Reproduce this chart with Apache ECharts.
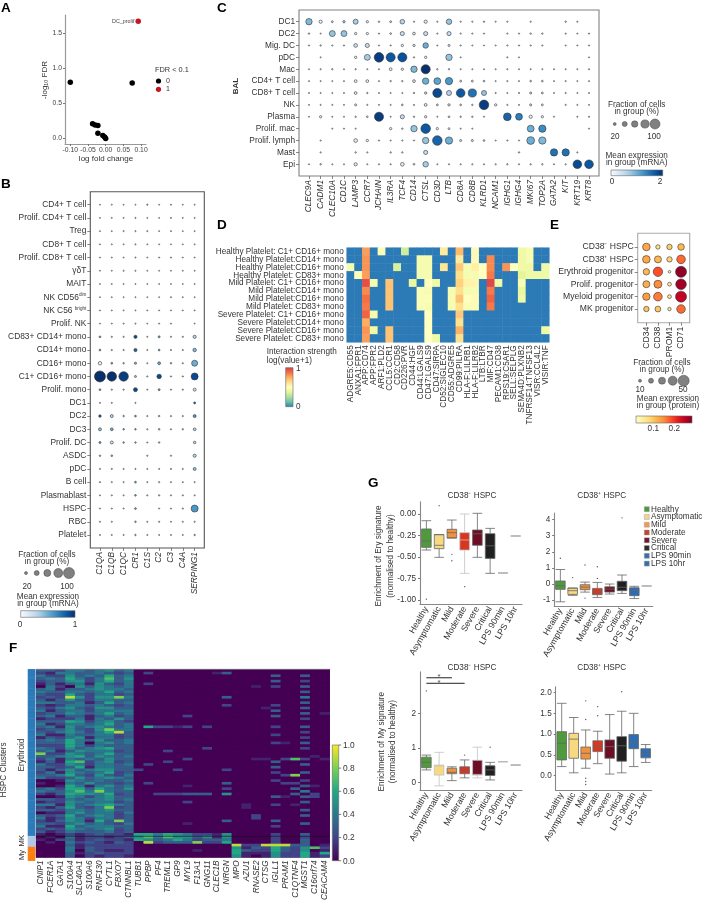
<!DOCTYPE html>
<html><head><meta charset="utf-8">
<style>html,body{margin:0;padding:0;background:#fff}#c{width:703px;height:903px}</style>
<script src="https://cdn.jsdelivr.net/npm/echarts@6/dist/echarts.min.js"></script>
</head><body><div id="c"></div>
<script>
// ---------- Panel A ----------
const aPointsBlack=[[-0.10,0.80],[0.075,0.79],[-0.037,0.21],[-0.03,0.19],[-0.022,0.185],[-0.022,0.075],[-0.008,0.04],[-0.003,0.02],[0,0]];
const aPointsRed=[[0.092,1.67]];
const aXTicks=[-0.10,-0.05,0,0.05,0.10];
const aYTicks=[0,0.5,1,1.5];
// ---------- Panel C ----------
const cRows=['DC1','DC2','Mig. DC','pDC','Mac','CD4+ T cell','CD8+ T cell','NK','Plasma','Prolif. mac','Prolif. lymph','Mast','Epi'];
const cGenes=['CLEC9A','CADM1','CLEC10A','CD1C','LAMP3','CCR7','JCHAIN','IL3RA','TCF4','CD14','CTSL','CD3D','LTB','CD8A','CD8B','KLRD1','NCAM1','IGHG1','IGHG4','MKI67','TOP2A','GATA2','KIT','KRT19','KRT8'];
const cFrac=[
[60,25,10,15,45,15,6,10,40,3,25,3,50,3,3,5,2,3,0,3,0,0,5,3,0],
[5,2,55,55,15,15,3,8,35,20,35,3,35,3,3,3,0,3,3,5,5,0,3,2,3],
[3,5,3,3,30,35,2,3,15,15,50,2,12,3,2,2,2,3,3,3,3,0,2,2,3],
[0,2,0,0,15,55,95,90,90,4,15,0,60,2,0,0,0,3,2,0,0,0,0,0,2],
[2,3,5,2,4,2,2,20,15,60,90,5,5,2,2,2,2,3,2,2,2,2,2,2,3],
[2,2,2,2,20,20,2,5,5,20,60,65,70,10,10,8,2,3,2,8,8,2,3,2,2],
[2,2,2,2,20,5,2,2,2,5,15,90,45,85,80,45,3,2,3,12,10,2,3,2,2],
[2,2,2,2,12,3,2,2,8,3,20,10,15,8,5,95,15,3,3,12,10,0,3,2,2],
[2,15,2,2,5,8,90,2,35,5,15,2,8,5,5,2,0,75,65,25,15,2,0,3,3],
[0,0,2,2,2,0,0,15,5,60,95,15,10,2,2,0,0,0,0,65,70,0,0,0,2],
[0,3,0,0,30,15,4,2,3,3,60,95,70,12,12,8,2,3,2,75,70,0,0,0,0],
[0,3,0,0,5,3,0,5,5,0,35,0,0,0,0,0,0,0,5,0,0,70,70,3,0],
[2,6,2,2,25,2,3,3,30,8,50,2,3,3,3,3,3,5,3,4,5,2,3,85,85]];
const cExpr=[
[.9,.1,.3,.6,.7,.1,.2,.4,.6,.1,.2,.1,.8,.1,.1,.2,.1,.1,0,.1,0,0,.3,.1,0],
[.3,.1,.8,.8,.2,.1,.1,.3,.5,.2,.5,.1,.5,.1,.1,.1,0,.1,.1,.2,.2,0,.1,.1,.1],
[.1,.2,.1,.1,.4,.5,.1,.1,.1,.2,1,.1,.3,.1,.1,.1,.1,.1,.1,.1,.1,0,.1,.1,.1],
[0,.1,0,0,.1,.7,1.9,1.7,1.75,.1,.1,0,.8,.1,0,0,0,.1,.1,0,0,0,0,0,.1],
[.1,.1,.2,.1,.2,.1,.1,.1,.1,.9,2,.2,.2,.1,.1,.1,.1,.1,.1,.1,.1,.1,.1,.1,.1],
[.1,.1,.1,.1,.1,.1,.1,.2,.2,.2,1,1.1,1.2,.3,.3,.3,.1,.1,.1,.3,.3,.1,.1,.1,.1],
[.1,.1,.1,.1,.2,.2,.1,.1,.1,.2,.4,1.8,.6,1.7,1.5,.8,.1,.1,.1,.4,.3,.1,.1,.1,.1],
[.1,.1,.1,.1,.2,.1,.1,.1,.3,.1,.2,.3,.2,.3,.2,1.9,.1,.1,.1,.4,.3,0,.1,.1,.1],
[.1,.1,.1,.1,.2,.3,1.9,.1,.5,.2,.2,.1,.3,.2,.2,.1,0,1.6,1.4,.1,.1,.1,0,.1,.1],
[0,0,.1,.1,.1,0,0,.1,.2,.8,1.7,.1,.1,.1,.1,0,0,0,0,1,1.3,0,0,0,.1],
[0,.1,0,0,.2,.1,.1,.1,.1,.1,.8,1.6,1,.4,.4,.3,.1,.1,.1,1,.9,0,0,0,0],
[0,.1,0,0,.2,.1,0,.2,.2,0,.5,0,0,0,0,0,0,0,.2,0,0,1.5,1.5,.1,0],
[.1,.3,.1,.1,.2,.1,.1,.1,.2,.3,.7,.1,.1,.1,.1,.1,.1,.2,.1,.2,.2,.1,.1,1.8,1.7]];
// ---------- Panel B ----------
const bRows=['CD4+ T cell','Prolif. CD4+ T cell','Treg','CD8+ T cell','Prolif. CD8+ T cell','γδT','MAIT','NK CD56dim','NK C56 bright','Prolif. NK','CD83+ CD14+ mono','CD14+ mono','CD16+ mono','C1+ CD16+ mono','Prolif. mono','DC1','DC2','DC3','Prolif. DC','ASDC','pDC','B cell','Plasmablast','HSPC','RBC','Platelet'];
const bGenes=['C1QA','C1QB','C1QC','CR1','C1S','C2','C3','C4A','SERPING1'];
const bFrac=[
[1,1,1,1,3,1,2,1,1],[1,1,1,2,1,1,2,1,1],[1,1,2,2,2,1,2,1,1],[1,1,1,2,1,1,1,1,1],[1,1,1,2,1,2,2,1,1],
[1,1,2,2,1,1,1,1,1],[1,1,1,1,1,1,1,1,1],[1,1,1,1,1,1,2,1,1],[1,1,1,1,1,1,1,1,1],[1,1,2,2,1,2,2,0,1],
[8,3,3,22,2,10,3,3,22],[8,3,3,22,2,8,3,3,25],[25,8,5,12,2,18,6,3,50],[100,85,85,10,3,35,3,3,60],[8,3,3,30,2,10,3,3,20],
[2,2,0,2,0,0,0,0,10],[15,20,5,8,3,5,3,3,20],[20,18,6,6,3,6,3,4,18],[10,20,6,6,2,5,0,0,15],[6,7,0,0,3,0,3,0,22],
[2,3,2,2,2,2,3,2,20],[3,2,2,8,2,3,2,2,2],[2,2,2,7,3,4,3,3,2],[2,2,2,8,0,2,2,3,60],[2,2,0,6,2,3,2,2,3],[2,2,2,5,2,2,2,2,5]];
const bExpr=[
[.05,.05,.05,.05,.3,.05,.1,.05,.05],[.05,.05,.05,.1,.05,.05,.1,.05,.05],[.05,.05,.1,.1,.1,.05,.1,.05,.05],[.05,.05,.05,.1,.05,.05,.05,.05,.05],[.05,.05,.05,.1,.05,.1,.1,.05,.05],
[.05,.05,.1,.1,.05,.05,.05,.05,.05],[.05,.05,.05,.05,.05,.05,.05,.05,.05],[.05,.05,.05,.05,.05,.05,.1,.05,.05],[.05,.05,.05,.05,.05,.05,.05,.05,.05],[.05,.05,.1,.1,.05,.1,.1,0,.05],
[.5,.2,.2,.9,.1,.5,.1,.1,.3],[.5,.2,.2,.8,.1,.5,.1,.1,.45],[.05,.5,.3,.5,.1,.5,.3,.1,.5],[1,1,.95,.4,.1,.9,.1,.1,.9],[.5,.2,.2,.9,.1,.5,.1,.1,.2],
[.1,.1,0,.1,0,0,0,0,.8],[.8,.3,.4,.5,.1,.3,.1,.1,.6],[.4,.5,.5,.5,.1,.4,.1,.2,.3],[.6,.2,.4,.4,.1,.3,0,0,.3],[.3,.4,0,0,.1,0,.1,0,.3],
[.1,.1,.1,.1,.1,.1,.1,.1,.4],[.1,.1,.1,.5,.1,.1,.1,.1,.1],[.1,.1,.1,.5,.1,.2,.1,.1,.1],[.1,.1,.1,.5,0,.1,.1,.1,.6],[.1,.1,0,.4,.1,.1,.1,.1,.1],[.1,.1,.1,.3,.1,.1,.1,.1,.3]];
// ---------- Panel D ----------
const dRows=['Healthy Platelet: C1+ CD16+ mono','Healthy Platelet:CD14+ mono','Healthy Platelet:CD16+ mono','Healthy Platelet: CD83+ mono','Mild Platelet: C1+ CD16+ mono','Mild Platelet:CD14+ mono','Mild Platelet:CD16+ mono','Mild Platelet: CD83+ mono','Severe Platelet: C1+ CD16+ mono','Severe Platelet:CD14+ mono','Severe Platelet:CD16+ mono','Severe Platelet: CD83+ mono'];
const dPairs=['ADGRE5:CD55','ANXA1:FPR1','APP:CD74','APP:FPR2','ARF1:PLD2','CCL5:CCR1','CD2:CD58','CD226:PVR','CD44:HGF','CD44:LGALS9','CD47:LGALS9','CD47:SIRPA','CD52:SIGLEC10','CD55:ADGRE5','CD99:PILRA','HLA-F:LILRB1','HLA-F:LILRB2','LTB:LTBR','MIF:CD47','PECAM1:CD38','RPS19:C5AR1','SELL:SELPLG','SEMA4D:PLXNB2','TNFRSF14:TNFSF13','VISR:CCL4L2','VISIR:TNF'];
const dValues=[
[0,0,.78,0,.48,0,0,.33,0,0,0,0,.58,0,.72,0,.52,0,0,0,0,0,.42,.46,0,0],
[0,0,.8,0,0,0,0,0,0,.45,.45,0,0,0,.58,0,.52,0,.82,0,0,0,.42,.46,0,0],
[.45,0,.8,0,0,0,.35,0,0,.45,.45,0,.6,0,.68,.46,.56,.5,.82,0,.8,.5,.42,.42,0,.42],
[0,.48,.78,0,0,0,0,0,0,.45,.45,0,0,0,.62,.45,.46,.5,.85,0,0,0,.38,.42,.42,.42],
[0,0,.95,.45,0,.7,0,0,.4,0,.5,.42,0,0,.66,.55,.54,0,.97,.42,0,0,.46,0,0,0],
[0,0,.82,0,0,.7,0,0,0,.47,.46,0,0,.46,.62,.45,.46,0,.85,0,0,0,.4,0,0,0],
[0,0,.87,0,0,.7,0,0,0,.47,.48,0,0,.46,.7,.5,.52,0,.9,0,0,0,.42,0,0,0],
[0,0,.85,0,0,.7,0,0,0,.47,.46,0,0,.46,.62,.47,.47,0,.85,0,0,0,0,0,0,0],
[0,0,.9,.45,0,0,0,0,0,0,.5,0,0,0,.68,0,0,0,0,0,0,0,0,0,0,0],
[0,0,.75,0,0,0,0,0,0,0,.5,0,0,0,.62,0,0,0,0,0,0,0,0,0,0,0],
[0,0,.8,.42,0,.7,0,0,0,0,.5,0,0,0,.74,0,0,0,0,0,0,0,0,0,0,.42],
[0,0,.78,0,0,.7,0,0,0,0,.5,.42,0,0,.62,0,0,0,0,0,0,0,0,0,0,0]];
// ---------- Panel E ----------
const eRows=['CD38⁻ HSPC','CD38⁺ HSPC','Erythroid progenitor','Prolif. progenitor','Myeloid progenitor','MK progenitor'];
const eProteins=['CD34','CD38','PROM1','CD71'];
const eFrac=[[33,17,22,28],[33,30,22,38],[27,42,8,50],[30,35,14,48],[32,38,14,50],[22,24,12,38]];
const eExpr=[[.115,.055,.08,.1],[.115,.1,.075,.16],[.1,.175,.02,.27],[.11,.14,.04,.26],[.125,.15,.05,.24],[.09,.085,.04,.16]];
// ---------- Panel F ----------
const fGenes=['CNIP1','FCER1A','GATA1','S100A4','SLC40A1','S100A6','RNF130','CYTL1','FBXO7','CTNNBL1','TUBB1','PPBP','PF4','TREML1','GP9','MYL9','F13A1','GNG11','CLEC1B','NRGN','MPO','AZU1','RNASE2','CTSG','IGLL1','PRAM1','C1QTNF4','MGST1','C16orf74','CEACAM4'];
const fClusterSizes=[61,4,5];
const fDense=[
'3324434534','2144334323','4225343634','3436424735','2335524634','1313415324','0420535434','3413345443','4334434634','3226324423',
'2329525584','3135324433','4433413634','2124434323','3245325533','4134424444','2335434634','3413313423','1222414353','3336524532',
'4124434634','3415345434','2335325844','3245424693','4114334423','1324514423','3436435334','3336404534','2226424333','4325345633',
'3413544423','8225434633','3345635434','2414343533','1316724523','4225424434','3323614433','3135345533','2415434623','3346325324',
'4223534543','0015434334','1004353323','0016414534','3426636435','4335748433','2136554623','0015424533','3324344534','1225434423',
'4415345643','2136324823','3324434533','0114534424','3236345423','4125424423','2135416383','3324534324','4116344433','2325434523',
'3124333423',
'1012123221','0104122123','1023123221','0104232132',
'0003122222','0004132222','0004032112','0003123222','0003021221'];
const fOthers=[
[1,11,2],[5,11,2],[21,11,6],[21,12,2],[21,13,2],[21,14,1],[21,15,2],[21,17,2],[30,13,2],[1,18,1],[35,11,2],[37,10,2],[46,12,2],[46,13,2],[46,14,2],[46,15,3],[46,16,3],[46,17,3],[46,19,5],[42,11,2],[43,15,1],[49,15,2],[50,21,1],[57,15,1],[17,15,2],[33,15,2],[34,13,2],[29,17,2],[37,14,2],
[1,19,3],[10,19,3],[13,19,2],[37,19,2],[42,19,3],[44,19,2],[56,19,3],
[2,24,3],[4,24,3],[6,24,2],[13,24,2],[15,24,3],[17,24,3],[21,24,2],[24,24,2],[27,24,2],[34,24,3],[36,24,3],[38,24,2],[41,24,2],[47,24,3],[50,24,2],[56,24,3],[58,24,2],
[2,27,3],[4,27,2],[6,27,3],[8,27,3],[10,27,4],[12,27,3],[14,27,3],[16,27,3],[18,27,2],[21,27,3],[23,27,2],[25,27,2],[27,27,3],[29,27,2],[33,27,2],[35,27,3],[38,27,3],[41,27,2],[43,27,3],[45,27,4],[47,27,3],[49,27,3],[52,27,3],[54,27,3],[57,27,3],
[33,26,7],[33,25,2],[33,23,1],[33,22,1],[39,26,8],[39,25,2],[42,25,2],[42,26,2],[44,26,3],[46,26,3],[47,25,1],[47,28,2],[50,26,1],[27,25,1],[14,23,1],[16,29,1],[32,28,1],[33,29,1],[43,28,1],[46,28,2],[54,22,2],[55,22,2],[51,21,1],[6,22,1]];
const fMegaRows=[
'66465422150000200300',
'57475535150000200200',
'65346423340000200300',
'09233382260000200300'];
const fMyeloRows=[
'00000000009229993301',
'00000000005132632572',
'00000010006322632501',
'00000000006111522616',
'00000000005101522612'];
// ---------- Panel G ----------
const gGroups=['Healthy','Asymptomatic','Mild','Moderate','Severe','Critical','LPS 90min','LPS 10hr'];
const gColors=['#4f9a3c','#f7d981','#ef9240','#d8361f','#6d0e25','#202020','#2d6db4','#2d6db4'];
const gLegendColors=['#4f9a3c','#f2d58a','#ee9a55','#c8432f','#6d1a30','#2a2a2a','#3a6ea8','#3a6ea8'];
// whisker-low, q1, median, q3, whisker-high
const ery38neg=[[-.419,-.388,-.314,-.174,-.078],[-.504,-.403,-.364,-.24,-.24],[-.279,-.279,-.217,-.178,-.07],[-.69,-.419,-.302,-.217,0],[-.504,-.364,-.23,-.186,.008],[-.69,-.516,-.37,-.229,-.167],[-.686,-.686,-.686,-.686,-.686],[-.256,-.256,-.256,-.256,-.256]];
const ery38negOut=[[0,-.99],[1,.097],[2,-.469],[2,-.543],[3,-.845]];
const ery38pos=[[-1.1,-.33,-.1,.19,.9],[-.7,-.64,-.41,-.25,-.25],[-.5,-.35,-.19,-.04,.12],[-.83,-.66,-.5,-.27,.1],[-.62,-.5,-.31,-.17,0],[-.58,-.41,-.2,.17,.56],[-.9,-.72,-.41,-.23,-.14],[-.12,-.12,-.12,-.12,-.12]];
const ery38posOut=[[0,1.6],[1,.4],[2,1.18],[2,-.87],[3,1.07],[3,.35],[5,4.1]];
const my38neg=[[.36,.425,.58,.73,.79],[-.1,.21,.48,.5,.87],[.05,.25,.29,.41,.45],[.13,.25,.35,.45,.65],[.13,.21,.23,.64,1.02],[.07,.2,.36,.48,.58],[.6,.6,.6,.6,.6],[.5,.5,.5,.5,.5]];
const my38negOut=[[0,2.65],[3,.79],[5,1.02]];
const my38pos=[[.22,.38,.78,1.06,1.74],[.07,.42,.88,1.02,1.4],[.18,.4,.54,.69,1.1],[.29,.58,.71,.84,1.07],[.04,.42,.7,.86,1.47],[.07,.35,.72,.94,1.55],[.22,.65,.8,.99,1.5],[.32,.43,.54,.65,.75]];
const my38posOut=[[2,1.8],[2,1.35],[2,-.06],[2,-.14],[2,-.21],[3,1.66],[3,1.44],[5,2.02]];
const myBrackets=[[[0,3.03],[2,3.03]],[[0,2.87],[3,2.87]]];
const myStars=[[1.1,3.03],[1.4,2.87]];

// ---------- colour ramps ----------
const BLUES=['#f7fbff','#deebf7','#c6dbef','#9ecae1','#6baed6','#4292c6','#2171b5','#08519c','#08306b'];
const YLORRD=['#ffffcc','#ffeda0','#fed976','#feb24c','#fd8d3c','#fc4e2a','#e31a1c','#bd0026','#800026'];
const SPECTRAL=['#2c7bb6','#66c2a5','#abdda4','#e6f598','#ffffbf','#fee08b','#fdae61','#f46d43','#d53e4f'];
const VIRIDIS=['#440154','#414487','#2a788e','#22a884','#7ad151','#fde725'];
function ramp(st,t){t=Math.max(0,Math.min(1,t));const p=t*(st.length-1),i=Math.min(st.length-2,Math.floor(p)),f=p-i;
 const h=s=>[1,3,5].map(k=>parseInt(s.substr(k,2),16));const a=h(st[i]),b=h(st[i+1]);
 return 'rgb('+a.map((v,k)=>Math.round(v+(b[k]-v)*f)).join(',')+')';}

const FONT='"Liberation Sans",Arial,sans-serif', TXT='#333';
const grid=[],xAxis=[],yAxis=[],series=[],visualMap=[],graphic=[];
function T(x,y,text,o){o=o||{};graphic.push({type:'text',x,y,rotation:o.rot||0,silent:true,z:20,style:{text,align:o.align||'center',verticalAlign:'middle',fill:o.fill||TXT,font:(o.style||'')+' '+(o.weight||'normal')+' '+(o.size||8.2)+'px '+FONT}});}
function addGrid(l,t,w,h,g){grid.push(Object.assign({left:l,top:t,width:w,height:h,containLabel:false},g||{}));return grid.length-1;}
const richSup={s:{fontSize:4.6,verticalAlign:'top',lineHeight:9,color:TXT,fontFamily:FONT},n:{fontSize:8.4,color:TXT,fontFamily:FONT,lineHeight:9}};

function dotplot(o){
 const nx=o.cols.length,ny=o.rows.length,gi=addGrid(o.l,o.t,o.w,o.h,{show:true,borderColor:o.frame||'#808080',borderWidth:1.1,backgroundColor:'#fff'});
 const xs=o.cols.map((_,i)=>i),ys=o.rows.map((_,i)=>i),fs=o.fs||8.4;
 xAxis.push({gridIndex:gi,type:'value',position:'bottom',min:-o.padX,max:nx-1+o.padX,splitLine:{show:false},axisLine:{show:false,onZero:false},
  axisTick:{show:true,length:3,customValues:xs,lineStyle:{color:'#555',width:.7}},
  axisLabel:{customValues:xs,rotate:90,fontSize:fs,fontFamily:FONT,color:TXT,fontStyle:o.italic?'italic':'normal',margin:4,formatter:v=>o.cols[v]}});
 yAxis.push({gridIndex:gi,type:'value',position:'left',inverse:true,min:-o.padY,max:ny-1+o.padY,splitLine:{show:false},axisLine:{show:false,onZero:false},
  axisTick:{show:true,length:3,customValues:ys,lineStyle:{color:'#555',width:.7}},
  axisLabel:{customValues:ys,fontSize:fs,fontFamily:FONT,color:TXT,margin:4,rich:richSup,formatter:o.yFmt||(v=>o.rows[v])}});
 const data=[];o.frac.forEach((r,y)=>r.forEach((f,x)=>{if(f>0)data.push([x,y,f,o.expr[y][x]]);}));
 series.push({type:'scatter',xAxisIndex:gi,yAxisIndex:gi,data,clip:false,silent:true,z:5,
  symbolSize:v=>o.d0+o.k*v[2],
  itemStyle:{color:p=>ramp(o.pal,p.value[3]/o.max),borderColor:'#333',borderWidth:.6,opacity:1}});
}
function sizeLegend(xs,ds,y){xs.forEach((x,i)=>graphic.push({type:'circle',silent:true,z:20,shape:{cx:x,cy:y,r:ds[i]/2},style:{fill:'#808080',stroke:'#444',lineWidth:.5}}));}
function colorbar(x,y,w,h,pal,vert){const n=pal.length;
 graphic.push({type:'rect',silent:true,z:20,shape:{x,y,width:w,height:h},style:{fill:new echarts.graphic.LinearGradient(0,vert?1:0,vert?0:1,0,pal.map((c,i)=>({offset:i/(n-1),color:c}))),stroke:'#666',lineWidth:.6}});}

// ----- A -----
{const g=addGrid(65,15,81,129);
 const ax={color:'#999',width:1.2};
 xAxis.push({gridIndex:g,type:'value',min:-.115,max:.114,splitLine:{show:false},axisLine:{onZero:false,lineStyle:ax},
  axisTick:{length:2,customValues:aXTicks,lineStyle:{color:'#777'}},
  axisLabel:{customValues:aXTicks,fontSize:6.8,color:'#444',fontFamily:FONT,margin:3,formatter:v=>v.toFixed(2)}});
 yAxis.push({gridIndex:g,type:'value',min:-.08,max:1.76,splitLine:{show:false},axisLine:{show:true,onZero:false,lineStyle:ax},
  axisTick:{show:true,length:2,customValues:aYTicks,lineStyle:{color:'#777'}},
  axisLabel:{customValues:aYTicks,fontSize:6.8,color:'#444',fontFamily:FONT,margin:3,formatter:v=>v.toFixed(1)}});
 series.push({type:'scatter',xAxisIndex:g,yAxisIndex:g,data:aPointsBlack,symbolSize:5.5,clip:false,silent:true,itemStyle:{color:'#000',opacity:1}});
 series.push({type:'scatter',xAxisIndex:g,yAxisIndex:g,data:aPointsRed,symbolSize:5.5,clip:false,silent:true,itemStyle:{color:'#c4161c',opacity:1},
  label:{show:true,position:'left',distance:1,formatter:'DC_prolif',fontSize:5.4,color:'#444',fontFamily:FONT}});
 T(106,159,'log fold change',{size:8});T(45,80,'-log₁₀ FDR',{size:8,rot:Math.PI/2});
 T(155,70,'FDR < 0.1',{size:7.4,align:'left'});
 graphic.push({type:'circle',silent:true,shape:{cx:158.5,cy:81,r:2.6},style:{fill:'#000'}},{type:'circle',silent:true,shape:{cx:158.5,cy:89.3,r:2.6},style:{fill:'#c4161c'}});
 T(166,81,'0',{size:7,align:'left'});T(166,89.3,'1',{size:7,align:'left'});
}
// ----- C -----
dotplot({l:299,t:10,w:300,h:166,rows:cRows,cols:cGenes,frac:cFrac,expr:cExpr,padX:.855,padY:.985,italic:true,pal:BLUES,max:2,d0:1,k:.09,fs:8.3});
T(236,86,'BAL',{size:8,weight:'bold',rot:Math.PI/2});
T(636.7,104.3,'Fraction of cells');T(636.7,111.7,'in group (%)');
sizeLegend([614.7,624.7,634.7,645,655],[3,5,6.4,8.2,10],124);T(615,136.7,'20');T(654,136.7,'100');
T(636.7,155.7,'Mean expression');T(636.7,163,'in group (mRNA)');colorbar(611,170,51.7,5.7,BLUES);T(612,182,'0');T(660,182,'2');
// ----- B -----
dotplot({l:90.3,t:191.7,w:114,h:356.3,rows:bRows,cols:bGenes,frac:bFrac,expr:bExpr,padX:.815,padY:.985,italic:true,pal:BLUES,max:1,d0:1,k:.1,fs:8.4,frame:'#555',
 yFmt:v=>{const s=bRows[v];if(s==='NK CD56dim')return '{n|NK CD56}{s|dim}';if(s==='NK C56 bright')return '{n|NK C56 }{s|bright}';return s;}});
T(47,555,'Fraction of cells');T(47,562,'in group (%)');
sizeLegend([26,36.7,47.3,58.3,69],[3,5,7,9,11],573);T(27,587,'20');T(67,587,'100');
T(48,597,'Mean expression');T(48,604,'in group (mRNA)');colorbar(20.7,610.7,54.3,6.6,BLUES);T(20,625,'0');T(75,625,'1');
// ----- D -----
{const g=addGrid(346.7,247.7,202.6,94.6);
 xAxis.push({gridIndex:g,type:'category',data:dPairs,splitLine:{show:false},axisLine:{show:false,onZero:false},axisTick:{length:2,alignWithLabel:true,lineStyle:{color:'#555',width:.7}},
  axisLabel:{interval:0,rotate:90,fontSize:8.2,color:TXT,fontFamily:FONT,margin:3}});
 yAxis.push({gridIndex:g,type:'category',inverse:true,data:dRows,splitLine:{show:false},axisLine:{show:false,onZero:false},axisTick:{length:2,alignWithLabel:true,lineStyle:{color:'#555',width:.7}},
  axisLabel:{interval:0,fontSize:8.2,color:TXT,fontFamily:FONT,margin:3}});
 const data=[];dValues.forEach((r,y)=>r.forEach((v,x)=>data.push([x,y,v])));
 series.push({type:'heatmap',xAxisIndex:g,yAxisIndex:g,data,silent:true,emphasis:{disabled:true},itemStyle:{borderWidth:0}});
 visualMap.push({show:false,seriesIndex:series.length-1,dimension:2,min:0,max:1,inRange:{color:SPECTRAL}});
 T(266.7,351.7,'Interaction strength',{align:'left'});T(266.7,360.3,'log(value+1)',{align:'left'});
 colorbar(285.7,367.7,7.3,39,SPECTRAL,true);T(296,369,'1',{align:'left'});T(296,407,'0',{align:'left'});
}
// ----- E -----
dotplot({l:637.7,t:233.3,w:52,h:89.4,rows:eRows,cols:eProteins,frac:eFrac,expr:eExpr,padX:.75,padY:1.1,italic:false,pal:YLORRD,max:.28,d0:1,k:.2,fs:8.6,frame:'#aaa'});
T(662,363,'Fraction of cells');T(662,370,'in group (%)');
sizeLegend([640,651,662,672.7,683.7],[3,5,7,9,11],380.7);T(640,390,'10');T(683,390,'50');
T(668,399,'Mean expression');T(668,406,'in group (protein)');colorbar(636,416,56,7,YLORRD);T(653.3,429,'0.1');T(674.3,429,'0.2');
// ----- F -----
{const g=addGrid(36,669.3,293.7,191.4,{show:true,borderWidth:0,backgroundColor:'#440154'});
 const nRows=fDense.length,yCats=fDense.map((_,i)=>i);
 xAxis.push({gridIndex:g,type:'category',data:fGenes,splitLine:{show:false},axisLine:{show:false,onZero:false},axisTick:{length:2.5,alignWithLabel:true,lineStyle:{color:'#444',width:.7}},
  axisLabel:{interval:0,rotate:90,fontSize:8.2,fontStyle:'italic',color:TXT,fontFamily:FONT,margin:3}});
 yAxis.push({gridIndex:g,type:'category',inverse:true,data:yCats,axisLine:{show:false,onZero:false},axisTick:{show:false},axisLabel:{show:false},splitLine:{show:false}});
 const cell={};fDense.forEach((s,y)=>{for(let x=0;x<10;x++)cell[y+'_'+x]=+s[x]/10;});
 fOthers.forEach(([r,c,v])=>{cell[r+'_'+c]=v/10;});
 [...fMegaRows.map((s,i)=>[61+i,s]),...fMyeloRows.map((s,i)=>[65+i,s])].forEach(([y,s])=>{for(let k=0;k<20;k++)cell[y+'_'+(10+k)]=+s[k]/10;});
 const data=[];for(let y=0;y<nRows;y++)for(let x=0;x<30;x++)data.push([x,y,cell[y+'_'+x]||0]);
 series.push({type:'heatmap',xAxisIndex:g,yAxisIndex:g,data,silent:true,emphasis:{disabled:true},itemStyle:{borderWidth:0},progressive:0,z:2});
 visualMap.push({show:false,seriesIndex:series.length-1,dimension:2,min:0,max:1,inRange:{color:VIRIDIS}});
 // cluster colour strip
 const s=addGrid(28,669.3,7,191.4);
 xAxis.push({gridIndex:s,type:'category',data:['c'],show:false});
 yAxis.push({gridIndex:s,type:'category',inverse:true,data:yCats,show:false});
 const groupCol=['#2b7bba','#aec7e8','#ff7f0e'];const sd=[];let ri=0;
 fClusterSizes.forEach((n,gi)=>{for(let i=0;i<n;i++){sd.push({value:[0,ri++,gi],itemStyle:{color:groupCol[gi]}});}});
 series.push({type:'heatmap',xAxisIndex:s,yAxisIndex:s,data:sd,silent:true,emphasis:{disabled:true},itemStyle:{borderWidth:0}});
 graphic.push({type:'line',silent:true,z:20,shape:{x1:36,y1:836.3,x2:329.7,y2:836.3},style:{stroke:'#111',lineWidth:.6}});
 graphic.push({type:'line',silent:true,z:20,shape:{x1:36,y1:669.3,x2:329.7,y2:669.3},style:{stroke:'#888',lineWidth:.8}});
 T(4,770,'HSPC Clusters',{rot:Math.PI/2});T(22,755,'Erythroid',{rot:Math.PI/2});T(22,840.7,'MK',{rot:Math.PI/2,size:7.6});T(22,855,'My',{rot:Math.PI/2,size:7.6});
 colorbar(332.3,745,6.4,115.7,VIRIDIS,true);
 ['0.0','0.2','0.4','0.6','0.8','1.0'].forEach((l,i)=>{const y=860.7-i*23.14;
  graphic.push({type:'line',silent:true,z:20,shape:{x1:338.7,y1:y,x2:341.2,y2:y},style:{stroke:'#444',lineWidth:.7}});T(343,y+.5,l,{align:'left',size:8.4});});
}
// ----- G -----
function boxPanel(o){
 const g=addGrid(o.l,o.t,o.w,o.h),ax={color:'#888',width:1.1};
 xAxis.push({gridIndex:g,type:'category',data:gGroups,splitLine:{show:false},axisLine:{onZero:false,lineStyle:ax},axisTick:{length:2,alignWithLabel:true,lineStyle:{color:'#777'}},
  axisLabel:{interval:0,rotate:60,fontSize:8.7,color:TXT,fontFamily:FONT,margin:3}});
 yAxis.push({gridIndex:g,type:'value',min:o.min,max:o.max,splitLine:{show:false},axisLine:{show:true,onZero:false,lineStyle:ax},
  axisTick:{show:true,length:2,customValues:o.ticks,lineStyle:{color:'#777'}},
  axisLabel:{customValues:o.ticks,fontSize:8.2,color:TXT,fontFamily:FONT,margin:4,formatter:v=>v.toFixed(o.dec)}});
 series.push({type:'boxplot',xAxisIndex:g,yAxisIndex:g,boxWidth:[9.6,9.6],silent:true,
  data:o.data.map((d,i)=>({value:d,itemStyle:{color:gColors[i],borderWidth:d[0]===d[4]?1:.8,borderColor:d[0]===d[4]?'#bbb':(o.pale&&o.pale.includes(i)?'#c2c2c2':'#666')}}))});
 series.push({type:'scatter',xAxisIndex:g,yAxisIndex:g,data:o.out,symbolSize:1.4,clip:false,silent:true,itemStyle:{color:'#555',opacity:1}});
 return g;
}
boxPanel({l:420,t:501.7,w:102,h:102.6,min:-1.05,max:.143,ticks:[-1,-.75,-.5,-.25,0],dec:2,data:ery38neg,out:ery38negOut,pale:[3]});
boxPanel({l:554.2,t:513,w:98.6,h:93,min:-1.36,max:4.4,ticks:[-1,0,1,2,3,4],dec:0,data:ery38pos,out:ery38posOut});
const g3=boxPanel({l:420,t:671.9,w:102,h:118.4,min:-.23,max:3.2,ticks:[0,1,2],dec:0,data:my38neg,out:my38negOut,pale:[1,4]});
boxPanel({l:555.7,t:686.7,w:96,h:103.6,min:-.35,max:2.14,ticks:[0,.5,1,1.5,2],dec:1,data:my38pos,out:my38posOut});
myBrackets.forEach(b=>series.push({type:'line',xAxisIndex:g3,yAxisIndex:g3,data:b,symbol:'none',silent:true,clip:false,lineStyle:{color:'#222',width:1}}));
series.push({type:'scatter',xAxisIndex:g3,yAxisIndex:g3,data:myStars,symbolSize:1,silent:true,clip:false,itemStyle:{color:'rgba(0,0,0,0)'},label:{show:true,position:'top',distance:-4,formatter:'*',fontSize:8,color:'#222',fontFamily:FONT}});
T(472,495.7,'CD38⁻ HSPC');T(601.7,495.7,'CD38⁺ HSPC');T(472,667.7,'CD38⁻ HSPC');T(601.7,667.7,'CD38⁺ HSPC');
T(379,556,'Enrichment of Ery signature',{rot:Math.PI/2});T(391,556,'(normalised to healthy)',{rot:Math.PI/2});
T(382,741.7,'Enrichment of My signature',{rot:Math.PI/2});T(393,741.7,'(normalised to healthy)',{rot:Math.PI/2});
gGroups.forEach((n,i)=>{const y=509.3+i*7.77;
 graphic.push({type:'rect',silent:true,z:20,shape:{x:644.3,y:y-2.6,width:5,height:5},style:{fill:gLegendColors[i],stroke:'#999',lineWidth:.4}});
 T(651,y,n,{align:'left',size:8.2});});
// ----- panel letters -----
[['A',1,8],['C',217,8],['B',1,184],['D',217,225],['E',550,225],['F',9,648],['G',368,483]].forEach(([l,x,y])=>T(x,y,l,{align:'left',weight:'bold',size:13.5,fill:'#000'}));

const chart=echarts.init(document.getElementById('c'),null,{renderer:'canvas',width:703,height:903});
chart.setOption({animation:false,backgroundColor:'#fff',textStyle:{fontFamily:FONT},tooltip:{show:false},grid,xAxis,yAxis,series,visualMap,graphic:{elements:graphic}});
</script></body></html>
